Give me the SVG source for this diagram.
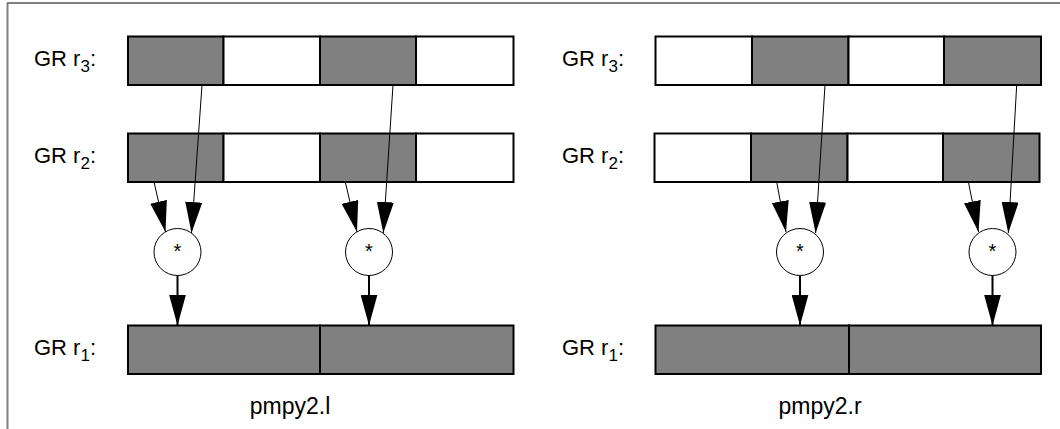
<svg xmlns="http://www.w3.org/2000/svg" width="1060" height="429" viewBox="0 0 1060 429">
<style>
.lbl{font-family:"Liberation Sans",Arial,sans-serif;font-size:22px;fill:#000}
.sub{font-size:17px}
.op{font-family:"Liberation Sans",Arial,sans-serif;font-size:20px;fill:#000;text-anchor:middle}
.cap{font-family:"Liberation Sans",Arial,sans-serif;font-size:23px;fill:#000;text-anchor:middle}
.g{fill:#808080;stroke:#000;stroke-width:2}
.w{fill:#fff;stroke:#000;stroke-width:2}
.circ{fill:#fff;stroke:#000;stroke-width:1}
.in{stroke:#000;stroke-width:1;fill:none}
.out{stroke:#000;stroke-width:2;fill:none}
</style>
<defs>
<marker id="ah" markerUnits="userSpaceOnUse" markerWidth="31" markerHeight="17" refX="31" refY="8.5" orient="auto" viewBox="0 0 31 17">
<path d="M0,0 L31,8.5 L0,17 Z" fill="#000"/>
</marker>
</defs>
<rect width="1060" height="429" fill="#fff"/>
<g id="frame" stroke="#808080" stroke-width="2" fill="none">
<line x1="7" y1="3" x2="1060" y2="3"/>
<line x1="7.5" y1="3" x2="7.5" y2="429"/>
</g>

<!-- Left panel -->
<g id="L_r3">
<text class="lbl" x="34" y="66">GR r<tspan class="sub" dy="6">3</tspan><tspan dy="-6">:</tspan></text>
<rect class="g" x="128" y="36.5" width="95.5" height="48.5"/>
<rect class="w" x="223.5" y="36.5" width="96.5" height="48.5"/>
<rect class="g" x="320" y="36.5" width="96" height="48.5"/>
<rect class="w" x="416" y="36.5" width="97.5" height="48.5"/>
</g>
<g id="L_r2">
<text class="lbl" x="34" y="163">GR r<tspan class="sub" dy="6">2</tspan><tspan dy="-6">:</tspan></text>
<rect class="g" x="128" y="133.5" width="95.5" height="48.5"/>
<rect class="w" x="223.5" y="133.5" width="96.5" height="48.5"/>
<rect class="g" x="320" y="133.5" width="96" height="48.5"/>
<rect class="w" x="416" y="133.5" width="97.5" height="48.5"/>
</g>
<g id="L_r1">
<text class="lbl" x="34" y="355">GR r<tspan class="sub" dy="6">1</tspan><tspan dy="-6">:</tspan></text>
<rect class="g" x="128" y="325.5" width="192" height="48.5"/>
<rect class="g" x="320" y="325.5" width="193.5" height="48.5"/>
</g>
<g id="L_m1"><circle class="circ" cx="177.5" cy="252" r="23.5"/><text class="op" x="177.5" y="258">*</text></g>
<g id="L_m2"><circle class="circ" cx="369" cy="252" r="23.5"/><text class="op" x="369" y="258">*</text></g>
<text id="L_cap" class="cap" x="290" y="414">pmpy2.l</text>

<!-- Right panel -->
<g id="R_r3">
<text class="lbl" x="562" y="66">GR r<tspan class="sub" dy="6">3</tspan><tspan dy="-6">:</tspan></text>
<rect class="w" x="655.5" y="36.5" width="96.5" height="48.5"/>
<rect class="g" x="752" y="36.5" width="96.5" height="48.5"/>
<rect class="w" x="848.5" y="36.5" width="95.5" height="48.5"/>
<rect class="g" x="944" y="36.5" width="97" height="48.5"/>
</g>
<g id="R_r2">
<text class="lbl" x="562" y="163">GR r<tspan class="sub" dy="6">2</tspan><tspan dy="-6">:</tspan></text>
<rect class="w" x="654.5" y="133.5" width="96.5" height="48.5"/>
<rect class="g" x="751" y="133.5" width="96.5" height="48.5"/>
<rect class="w" x="847.5" y="133.5" width="95.5" height="48.5"/>
<rect class="g" x="943" y="133.5" width="96.5" height="48.5"/>
</g>
<g id="R_r1">
<text class="lbl" x="562" y="355">GR r<tspan class="sub" dy="6">1</tspan><tspan dy="-6">:</tspan></text>
<rect class="g" x="655.5" y="325.5" width="193.5" height="48.5"/>
<rect class="g" x="849" y="325.5" width="192" height="48.5"/>
</g>
<g id="R_m1"><circle class="circ" cx="800" cy="252" r="23.5"/><text class="op" x="800" y="258">*</text></g>
<g id="R_m2"><circle class="circ" cx="992.5" cy="252" r="23.5"/><text class="op" x="992.5" y="258">*</text></g>
<text id="R_cap" class="cap" x="820" y="414">pmpy2.r</text>

<g id="connectors">
<line class="in" x1="154" y1="182" x2="165.5" y2="232" marker-end="url(#ah)"/>
<line class="in" x1="202" y1="85" x2="191.5" y2="233" marker-end="url(#ah)"/>
<line class="in" x1="345.3" y1="182" x2="357" y2="232" marker-end="url(#ah)"/>
<line class="in" x1="393" y1="85" x2="383.3" y2="233" marker-end="url(#ah)"/>
<line class="out" x1="177.5" y1="275.5" x2="177.5" y2="325.5" marker-end="url(#ah)"/>
<line class="out" x1="369" y1="275.5" x2="369" y2="325.5" marker-end="url(#ah)"/>

<line class="in" x1="776.7" y1="182" x2="786" y2="232" marker-end="url(#ah)"/>
<line class="in" x1="825" y1="85" x2="815.6" y2="233" marker-end="url(#ah)"/>
<line class="in" x1="968.4" y1="182" x2="978.5" y2="232" marker-end="url(#ah)"/>
<line class="in" x1="1016.7" y1="85" x2="1008.3" y2="233" marker-end="url(#ah)"/>
<line class="out" x1="800" y1="275.5" x2="800" y2="325.5" marker-end="url(#ah)"/>
<line class="out" x1="992.5" y1="275.5" x2="992.5" y2="325.5" marker-end="url(#ah)"/>
</g>
</svg>
